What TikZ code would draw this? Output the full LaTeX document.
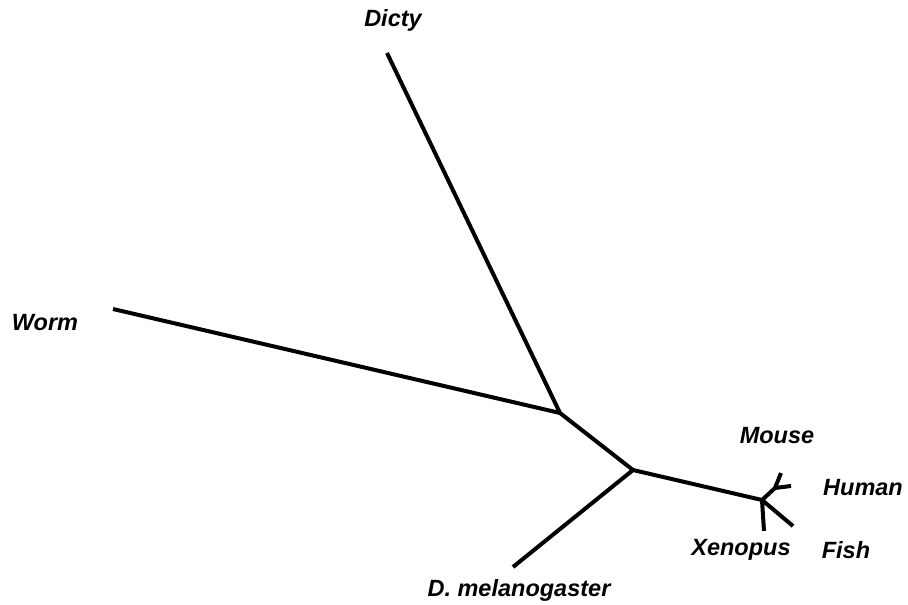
\documentclass[tikz,border=0pt]{standalone}
\usepackage{fontspec}
\setmainfont{Liberation Sans}
\begin{document}
\begin{tikzpicture}[x=1pt,y=-1pt,
  branch/.style={line width=4pt,line cap=butt,line join=round},
  lbl/.style={font=\fontsize{23.5}{28}\selectfont\bfseries\itshape,inner sep=0pt}]
\useasboundingbox (0,0) rectangle (908,605);
\coordinate (dicty) at (387,53);
\coordinate (worm) at (113,309);
\coordinate (A) at (560,413);
\coordinate (B) at (633,470);
\coordinate (dmel) at (513,567);
\coordinate (C) at (762,500);
\coordinate (xen) at (764,531);
\coordinate (fish) at (793,526);
\coordinate (D) at (775,488);
\coordinate (mouse) at (781,473);
\coordinate (human) at (791,486);
\draw[branch] (dicty) -- (A) -- (B) -- (C);
\draw[branch] (worm) -- (A);
\draw[branch] (dmel) -- (B);
\draw[branch] (xen) -- (C) -- (fish);
\draw[branch] (C) -- (D) -- (mouse);
\draw[branch] (D) -- (human);
\node[lbl] (ldicty) at (393,20) {Dicty};
\node[lbl] (lworm) at (45,323) {Worm};
\node[lbl] (ldmel) at (519,590) {D. melanogaster};
\node[lbl] (lmouse) at (777,436) {Mouse};
\node[lbl] (lhuman) at (863,488) {Human};
\node[lbl] (lxen) at (741,550) {Xenopus};
\node[lbl] (lfish) at (846,550) {Fish};
\end{tikzpicture}
\end{document}
